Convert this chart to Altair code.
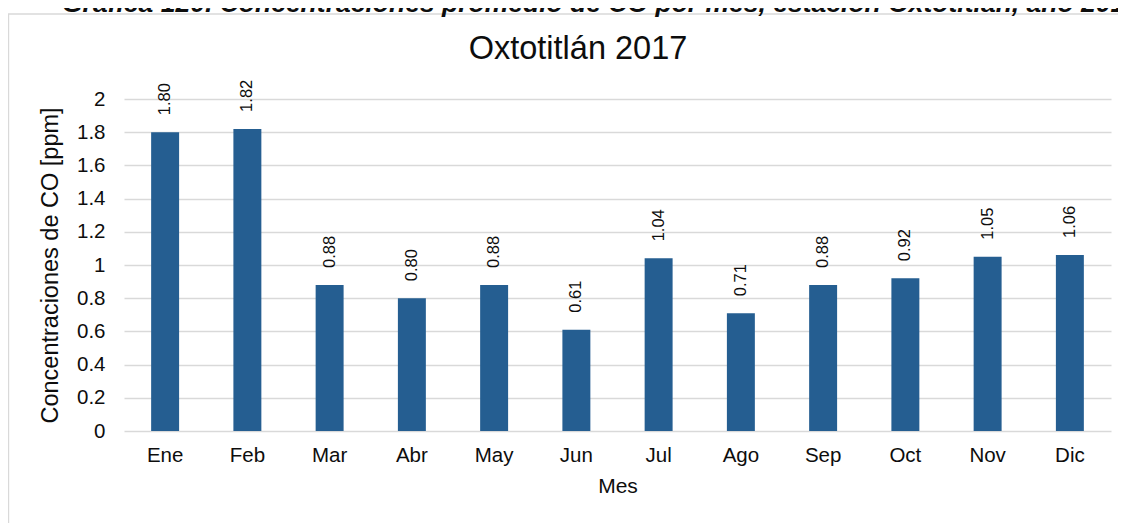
import altair as alt
import pandas as pd

months = ["Ene", "Feb", "Mar", "Abr", "May", "Jun", "Jul", "Ago", "Sep", "Oct", "Nov", "Dic"]
values = [1.80, 1.82, 0.88, 0.80, 0.88, 0.61, 1.04, 0.71, 0.88, 0.92, 1.05, 1.06]
y_ticks = [0, 0.2, 0.4, 0.6, 0.8, 1.0, 1.2, 1.4, 1.6, 1.8, 2.0]
caption = "Gráfica 120. Concentraciones promedio de CO por mes, estación Oxtotitlán, año 2017"
chart_title = "Oxtotitlán 2017"

df = pd.DataFrame({"Mes": months, "CO": values})

FONT = "Liberation Sans"
TEXT = "#0d0d0d"
GRID = "#d9d9d9"
BAR = "#255E91"

x_enc = alt.X(
    "Mes:N",
    sort=months,
    scale=alt.Scale(paddingInner=0.66, paddingOuter=0.33),
    axis=alt.Axis(
        title="Mes",
        labelAngle=0,
        labelFontSize=20.5,
        labelFont=FONT,
        labelColor=TEXT,
        labelPadding=14,
        ticks=False,
        domain=False,
        titleFontSize=21,
        titleFont=FONT,
        titleFontWeight="normal",
        titleColor=TEXT,
        titlePadding=10,
    ),
)

y_enc = alt.Y(
    "CO:Q",
    scale=alt.Scale(domain=[0, 2], nice=False),
    axis=alt.Axis(
        title="Concentraciones de CO [ppm]",
        values=y_ticks,
        format="~g",
        labelOverlap=False,
        labelFontSize=20.5,
        labelFont=FONT,
        labelColor=TEXT,
        labelPadding=19,
        ticks=False,
        domain=False,
        gridColor=GRID,
        gridWidth=1.4,
        titleFontSize=23.5,
        titleFont=FONT,
        titleFontWeight="normal",
        titleColor=TEXT,
        titlePadding=14,
    ),
)

bars = alt.Chart(df).mark_bar(color=BAR).encode(x=x_enc, y=y_enc)

labels = alt.Chart(df).mark_text(
    angle=270,
    align="left",
    baseline="middle",
    dx=17,
    fontSize=16.5,
    font=FONT,
    color=TEXT,
).encode(
    x=x_enc,
    y=y_enc,
    text=alt.Text("CO:Q", format=".2f"),
)

frame = alt.Chart(pd.DataFrame({"a": [0]})).mark_rect(
    fill="transparent", stroke=GRID, strokeWidth=1.4, clip=False
).encode(
    x=alt.value(-115.5),
    x2=alt.value(1200),
    y=alt.value(-85),
    y2=alt.value(600),
)

top_caption = alt.Chart(pd.DataFrame({"t": [caption]})).mark_text(
    align="left",
    baseline="alphabetic",
    fontSize=26.5,
    font=FONT,
    fontWeight="bold",
    fontStyle="italic",
    color=TEXT,
    clip=False,
).encode(
    x=alt.value(62 - 124),
    y=alt.value(-87),
    text="t:N",
)

title_mark = alt.Chart(pd.DataFrame({"t": [chart_title]})).mark_text(
    align="center",
    baseline="alphabetic",
    fontSize=32.5,
    font=FONT,
    color=TEXT,
    clip=False,
).encode(
    x=alt.value(578 - 124),
    y=alt.value(59 - 99),
    text="t:N",
)

chart = alt.layer(frame, top_caption, title_mark, bars, labels).properties(
    width=987,
    height=332,
    autosize=alt.AutoSizeParams(type="none"),
    padding={"left": 116, "top": 91, "right": 7, "bottom": 92},
).configure_view(stroke=None)

chart.save("out.html", embed_options={"renderer": "svg", "actions": False})
